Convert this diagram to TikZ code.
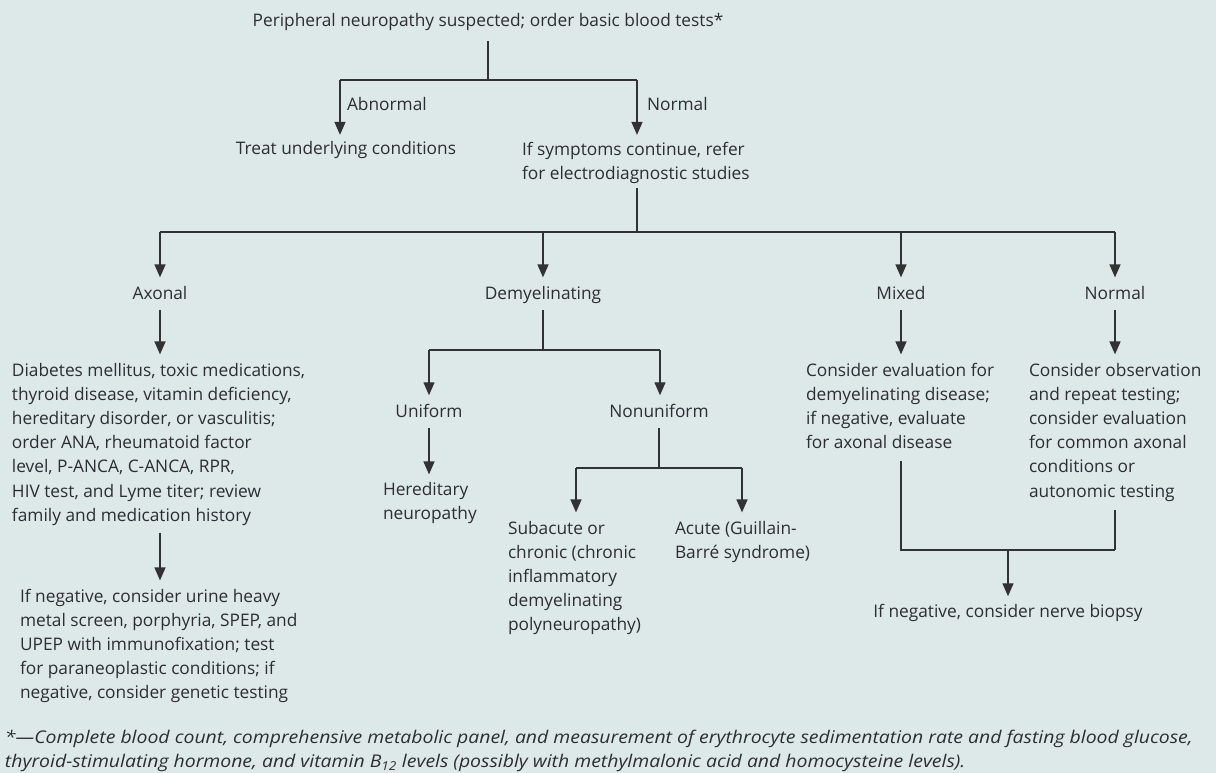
\documentclass[tikz,border=0pt]{standalone}
\usepackage{fontspec}
\setmainfont{Open Sans}
\newfontfamily\footfont[FakeStretch=1.11]{Open Sans}
\usetikzlibrary{arrows.meta}
\definecolor{bg}{RGB}{221,232,233}
\definecolor{ink}{RGB}{45,45,52}
\definecolor{lnc}{RGB}{50,50,50}
\tikzset{
 txt/.style={inner sep=0pt, outer sep=0pt, text=ink, font=\fontsize{17.3}{24.2}\selectfont},
 blk/.style={txt, align=left, anchor=north west},
 lbl/.style={txt, anchor=base},
 ln/.style={draw=lnc, line width=1.4pt},
 arr/.style={ln, -{Triangle[width=11pt,length=13pt]}},
}
\begin{document}
\begin{tikzpicture}[x=1pt,y=-1pt]
\fill[bg] (0,0) rectangle (1216,773);
\useasboundingbox (0,0) rectangle (1216,773);
% nodes
\node[lbl] (top) at (488,27) {Peripheral neuropathy suspected; order basic blood tests*};
\node[lbl,anchor=base west] (abn) at (347,111) {Abnormal};
\node[lbl,anchor=base west] (nrm) at (647,111) {Normal};
\node[lbl] (treat) at (346,155) {Treat underlying conditions};
\node[blk] (refer) at (522,141.9) {If symptoms continue, refer\\for electrodiagnostic studies};
\node[lbl] (axonal) at (160,299) {Axonal};
\node[lbl] (demy) at (543,299) {Demyelinating};
\node[lbl] (mixed) at (901,299) {Mixed};
\node[lbl] (normal) at (1115,299) {Normal};
\node[blk] (axdesc) at (12,362.9) {Diabetes mellitus, toxic medications,\\thyroid disease, vitamin deficiency,\\hereditary disorder, or vasculitis;\\order ANA, rheumatoid factor\\level, P-ANCA, C-ANCA, RPR,\\HIV test, and Lyme titer; review\\family and medication history};
\node[blk] (axneg) at (20,588.9) {If negative, consider urine heavy\\metal screen, porphyria, SPEP, and\\UPEP with immunofixation; test\\for paraneoplastic conditions; if\\negative, consider genetic testing};
\node[lbl] (unif) at (429,417) {Uniform};
\node[lbl] (nonu) at (659,417) {Nonuniform};
\node[blk] (hered) at (383,481.9) {Hereditary\\neuropathy};
\node[blk] (subac) at (508,520.9) {Subacute or\\chronic (chronic\\inflammatory\\demyelinating\\polyneuropathy)};
\node[blk] (acute) at (675,520.9) {Acute (Guillain-\\Barré syndrome)};
\node[blk] (mixdesc) at (806,362.9) {Consider evaluation for\\demyelinating disease;\\if negative, evaluate\\for axonal disease};
\node[blk] (normdesc) at (1029,362.9) {Consider observation\\and repeat testing;\\consider evaluation\\for common axonal\\conditions or\\autonomic testing};
\node[lbl] (biopsy) at (1008,617) {If negative, consider nerve biopsy};
\node[blk, font=\footfont\itshape\fontsize{17.5}{23.5}\selectfont] (foot) at (5,730.5) {*—Complete blood count, comprehensive metabolic panel, and measurement of erythrocyte sedimentation rate and fasting blood glucose,\\thyroid-stimulating hormone, and vitamin B\textsubscript{12} levels (possibly with methylmalonic acid and homocysteine levels).};
% junctions
\coordinate (j1) at (488,80);
\coordinate (jL) at (340,80);
\coordinate (jR) at (637,80);
\coordinate (j2) at (637,232);
\coordinate (cAx) at (160,232);
\coordinate (cDe) at (543,232);
\coordinate (cMi) at (901,232);
\coordinate (cNo) at (1115,232);
\coordinate (jDe) at (543,350);
\coordinate (jUn) at (429,350);
\coordinate (jNu) at (660,350);
\coordinate (jNb) at (659,468);
\coordinate (jSu) at (576,468);
\coordinate (jAc) at (742,468);
\coordinate (jMx) at (901,550);
\coordinate (jNx) at (1115,550);
\coordinate (jBi) at (1008,550);
% connectors
\draw[ln, shorten <=10pt] (top.south -| j1) -- (j1);
\draw[ln] (jL) -- (jR);
\draw[arr, shorten >=7pt] (jL) -- (jL |- treat.north);
\draw[arr, shorten >=7pt] (jR) -- (jR |- refer.north);
\draw[ln, shorten <=5pt] (refer.south -| j2) -- (j2);
\draw[ln] (cAx) -- (cNo);
\draw[arr, shorten >=8.5pt] (cAx) -- (cAx |- axonal.north);
\draw[arr, shorten >=8.5pt] (cDe) -- (cDe |- demy.north);
\draw[arr, shorten >=8.5pt] (cMi) -- (cMi |- mixed.north);
\draw[arr, shorten >=8.5pt] (cNo) -- (cNo |- normal.north);
\draw[arr, shorten <=11pt, shorten >=8.5pt] (cAx |- axonal.base) -- (cAx |- axdesc.north);
\draw[arr, shorten <=7.5pt, shorten >=8.5pt] (cAx |- axdesc.south) -- (cAx |- axneg.north);
\draw[ln, shorten <=11pt] (cDe |- demy.base) -- (jDe);
\draw[ln] (jUn) -- (jNu);
\draw[arr, shorten >=8.5pt] (jUn) -- (jUn |- unif.north);
\draw[arr, shorten >=8.5pt] (jNu) -- (jNu |- nonu.north);
\draw[arr, shorten <=11pt, shorten >=7.5pt] (jUn |- unif.base) -- (jUn |- hered.north);
\draw[ln, shorten <=11pt] (jNb |- nonu.base) -- (jNb);
\draw[ln] (jSu) -- (jAc);
\draw[arr, shorten >=8.5pt] (jSu) -- (jSu |- subac.north);
\draw[arr, shorten >=8.5pt] (jAc) -- (jAc |- acute.north);
\draw[arr, shorten <=11pt, shorten >=8.5pt] (cMi |- mixed.base) -- (cMi |- mixdesc.north);
\draw[arr, shorten <=11pt, shorten >=8.5pt] (cNo |- normal.base) -- (cNo |- normdesc.north);
\draw[ln, shorten <=12pt] (jMx |- mixdesc.south) -- (jMx) -- (jNx);
\draw[ln, shorten <=9pt] (jNx |- normdesc.south) -- (jNx);
\draw[arr, shorten >=7.5pt] (jBi) -- (jBi |- biopsy.north);
\end{tikzpicture}
\end{document}
